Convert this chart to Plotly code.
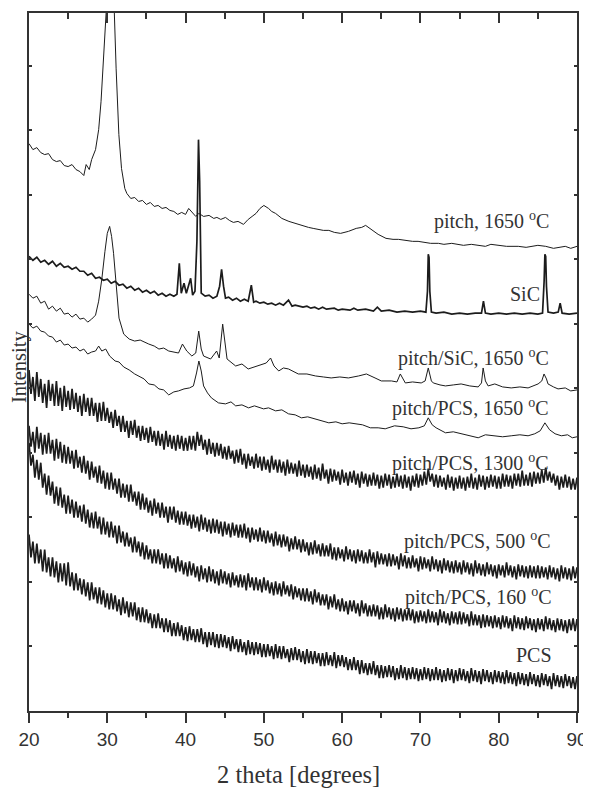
import numpy as np
import plotly.graph_objects as go

# ---------------- data (2 theta in degrees, intensity in arbitrary stacked units) ----------------
# 0.5 degree scan grid for the four noisy patterns: the noise maxima (top) are read at the grid
# points, the noise minima (bottom) a quarter degree later
scan_x = np.linspace(20, 90, 141)

pcs_1300_top = [342, 335, 340, 333, 328, 332, 328, 331, 324, 326,
                321, 323, 319, 316, 318, 314, 314, 309, 309, 310,
                304, 300, 302, 296, 296, 291, 291, 292, 286, 286,
                284, 285, 281, 281, 278, 281, 277, 276, 277, 276,
                274, 276, 276, 280, 277, 272, 273, 269, 269, 268,
                265, 266, 261, 262, 263, 258, 258, 255, 258, 255,
                255, 252, 256, 252, 252, 250, 252, 249, 248, 251,
                247, 247, 245, 247, 244, 248, 242, 243, 242, 240,
                242, 239, 240, 241, 238, 240, 238, 237, 239, 237,
                236, 238, 237, 235, 238, 236, 237, 235, 236, 238,
                237, 240, 243, 238, 237, 236, 234, 237, 235, 234,
                236, 234, 235, 238, 234, 237, 236, 235, 237, 236,
                235, 238, 237, 236, 238, 238, 241, 237, 239, 240,
                239, 242, 244, 240, 238, 236, 235, 237, 235, 233,
                234]
pcs_1300_bottom = [318, 311, 315, 309, 304, 311, 306, 306, 301, 305,
                   302, 303, 300, 296, 300, 296, 296, 290, 291, 291,
                   289, 284, 286, 280, 280, 274, 277, 274, 271, 272,
                   269, 270, 266, 266, 262, 265, 263, 261, 263, 261,
                   261, 262, 261, 266, 262, 257, 258, 255, 256, 253,
                   252, 253, 248, 249, 247, 243, 246, 243, 244, 241,
                   242, 239, 242, 239, 239, 236, 238, 238, 235, 236,
                   234, 235, 232, 233, 231, 233, 228, 230, 231, 227,
                   229, 226, 229, 227, 224, 228, 225, 226, 226, 223,
                   224, 226, 223, 224, 225, 223, 224, 221, 225, 224,
                   226, 227, 230, 225, 224, 225, 222, 224, 221, 223,
                   223, 221, 224, 223, 222, 225, 222, 224, 225, 223,
                   223, 225, 225, 223, 226, 225, 226, 226, 225, 228,
                   228, 229, 231, 229, 226, 222, 224, 224, 222, 222,
                   223]

pcs_500_top = [286, 280, 285, 279, 277, 279, 272, 273, 270, 267,
               265, 261, 262, 255, 256, 251, 250, 245, 246, 241,
               239, 239, 233, 233, 228, 227, 227, 220, 220, 218,
               214, 211, 213, 209, 209, 205, 205, 205, 201, 200,
               200, 197, 197, 195, 197, 194, 192, 193, 192, 190,
               190, 188, 189, 187, 187, 188, 184, 184, 182, 184,
               181, 181, 178, 180, 177, 177, 175, 173, 175, 172,
               172, 169, 169, 171, 167, 168, 166, 168, 164, 164,
               162, 165, 162, 161, 162, 161, 159, 162, 159, 160,
               158, 157, 158, 157, 155, 158, 156, 154, 156, 153,
               155, 154, 152, 155, 152, 151, 153, 151, 150, 151,
               149, 151, 149, 148, 151, 148, 147, 149, 147, 146,
               147, 146, 149, 146, 145, 147, 146, 145, 146, 145,
               146, 145, 144, 146, 144, 143, 146, 144, 143, 145,
               144]
pcs_500_bottom = [265, 259, 263, 257, 258, 258, 251, 253, 249, 248,
                  248, 243, 244, 239, 238, 232, 234, 229, 228, 223,
                  222, 222, 218, 214, 214, 210, 210, 206, 202, 202,
                  199, 196, 198, 194, 194, 189, 192, 189, 187, 187,
                  186, 183, 184, 180, 182, 180, 178, 179, 178, 175,
                  177, 174, 176, 174, 174, 173, 169, 172, 170, 170,
                  168, 169, 165, 166, 164, 165, 160, 162, 162, 159,
                  160, 156, 157, 158, 155, 155, 155, 152, 151, 153,
                  150, 152, 150, 148, 150, 148, 148, 149, 144, 147,
                  147, 145, 145, 146, 142, 145, 143, 143, 144, 140,
                  142, 143, 140, 142, 140, 138, 141, 139, 138, 139,
                  137, 139, 137, 135, 138, 136, 135, 137, 135, 133,
                  136, 134, 136, 134, 132, 135, 134, 133, 134, 133,
                  133, 134, 132, 134, 132, 130, 133, 132, 131, 133,
                  132]

pcs_160_top = [269, 257, 252, 249, 238, 236, 230, 225, 224, 217,
               216, 212, 210, 206, 207, 202, 199, 200, 195, 194,
               190, 190, 186, 186, 180, 179, 174, 175, 170, 169,
               166, 162, 162, 162, 158, 158, 156, 153, 155, 151,
               149, 150, 148, 145, 146, 143, 145, 142, 140, 142,
               140, 138, 139, 136, 137, 136, 138, 134, 134, 132,
               134, 131, 129, 130, 128, 130, 126, 127, 125, 123,
               123, 123, 120, 122, 119, 117, 117, 115, 117, 112,
               113, 110, 111, 111, 108, 111, 108, 106, 107, 106,
               104, 107, 104, 103, 104, 103, 102, 103, 102, 100,
               101, 100, 102, 100, 99, 102, 100, 98, 100, 99,
               100, 99, 97, 100, 97, 96, 97, 96, 95, 96,
               94, 96, 95, 93, 96, 94, 93, 95, 93, 92,
               93, 92, 95, 93, 91, 93, 92, 91, 92, 93,
               92]
pcs_160_bottom = [246, 234, 232, 224, 217, 216, 208, 206, 204, 198,
                  198, 194, 194, 190, 188, 184, 183, 183, 177, 177,
                  174, 174, 168, 169, 165, 165, 159, 159, 155, 152,
                  152, 148, 148, 147, 143, 143, 143, 139, 140, 137,
                  135, 136, 134, 130, 132, 129, 130, 128, 126, 128,
                  127, 124, 126, 124, 124, 121, 124, 121, 121, 119,
                  121, 118, 116, 117, 115, 117, 115, 112, 114, 111,
                  110, 110, 107, 109, 106, 106, 102, 104, 102, 100,
                  100, 97, 100, 98, 95, 98, 95, 95, 95, 92,
                  92, 94, 92, 90, 92, 90, 91, 91, 88, 89,
                  90, 88, 89, 89, 86, 89, 88, 86, 88, 87,
                  87, 88, 85, 86, 86, 83, 84, 85, 83, 84,
                  82, 84, 83, 80, 83, 82, 81, 83, 81, 79,
                  82, 80, 82, 81, 79, 81, 80, 78, 81, 80,
                  80]

pcs_top = [177, 170, 168, 162, 162, 154, 154, 150, 148, 148,
           149, 139, 138, 133, 132, 129, 129, 124, 124, 121,
           118, 118, 116, 112, 114, 110, 109, 109, 104, 104,
           102, 98, 97, 98, 93, 93, 91, 88, 89, 86,
           84, 85, 82, 82, 83, 79, 79, 79, 77, 77,
           76, 74, 75, 72, 72, 69, 71, 69, 69, 68,
           67, 67, 65, 67, 65, 65, 62, 63, 64, 62,
           60, 62, 60, 60, 58, 58, 59, 56, 59, 56,
           56, 54, 52, 54, 51, 51, 48, 48, 50, 46,
           46, 45, 46, 45, 43, 46, 44, 43, 44, 43,
           42, 44, 43, 42, 44, 42, 41, 43, 42, 41,
           43, 42, 40, 43, 41, 40, 42, 41, 39, 41,
           40, 39, 41, 39, 38, 39, 38, 37, 39, 37,
           36, 38, 37, 35, 38, 36, 35, 37, 35, 34,
           35]
pcs_bottom = [154, 148, 148, 140, 139, 135, 134, 129, 130, 126,
              125, 121, 121, 117, 115, 111, 112, 108, 107, 104,
              102, 102, 100, 96, 98, 94, 95, 91, 89, 89,
              88, 83, 83, 83, 79, 79, 75, 75, 75, 71,
              70, 71, 69, 69, 67, 64, 66, 64, 63, 64,
              63, 60, 62, 59, 59, 56, 57, 56, 57, 54,
              54, 55, 52, 53, 52, 53, 49, 51, 51, 49,
              47, 48, 47, 48, 45, 45, 46, 45, 43, 45,
              44, 41, 41, 41, 37, 38, 36, 37, 36, 33,
              33, 34, 34, 31, 32, 33, 31, 32, 32, 30,
              31, 32, 30, 31, 31, 29, 30, 31, 28, 30,
              31, 30, 28, 30, 29, 27, 30, 29, 27, 29,
              28, 27, 28, 27, 25, 27, 26, 25, 27, 25,
              24, 26, 25, 22, 25, 24, 23, 25, 23, 22,
              23]

pitch_x = [20, 20.5, 21, 21.5, 22, 22.5, 23, 23.5, 24, 24.5, 25, 25.5, 26, 26.5, 27,
           27.3, 27.7, 28.0, 28.5, 28.9, 29.2, 29.45, 29.7, 29.85, 30.33, 30.9, 31.13, 31.48, 31.82, 32.24,
           32.5, 33, 33.5, 34, 34.5, 35, 35.5, 36, 36.5, 37, 37.5, 38, 38.5, 39, 39.5, 40,
           40.4, 41, 41.3, 41.7, 42.3, 43, 43.6, 44, 44.5, 45.1,
           45.6, 46.1, 46.7, 47.4, 48, 48.5, 49, 49.5, 50, 50.6,
           51, 51.5, 52.3, 53.2, 54, 54.4, 55, 55.7, 56.3, 57,
           57.6, 58.3, 59, 59.8, 60.3, 60.8, 61.8, 62.5, 63, 63.7,
           64.6, 65.6, 66.5, 67.2, 68, 69, 69.7, 70.5, 71.3, 72.3,
           73, 74, 74.8, 75.5, 76.5, 77.4, 78.3, 79, 79.9, 81,
           82.5, 83.5, 85, 86, 87, 87.6, 88.5, 89.2, 90]
pitch_y = [569, 563, 565, 560, 558, 559, 553, 551, 552, 547, 546, 548, 543, 541, 537,
           548, 543, 553, 563, 583, 611, 644, 678, 700, 1011, 700, 644, 578, 544, 524,
           519, 514, 515, 511, 512, 508, 510, 506, 507, 504, 505, 502, 501, 498, 500, 498,
           504, 498, 496, 499, 496, 497, 494, 495, 493, 495,
           492, 490, 491, 488, 493, 496, 499, 504, 507, 504,
           501, 499, 494, 491, 489, 488, 486, 485, 484, 483,
           482, 482, 480, 479, 480, 481, 484, 485, 487, 483,
           478, 474, 473, 473, 472, 471, 471, 470, 469, 469,
           468, 469, 468, 467, 468, 467, 466, 468, 467, 466,
           466, 465, 467, 466, 464, 465, 466, 464, 466]

sic_x = [20, 20.5, 21, 21.5, 22, 22.5, 23, 23.5, 24, 24.5, 25, 25.5, 26, 26.5, 27, 27.5, 28, 28.5, 29, 29.5,
         30, 30.5, 31, 31.5, 32, 32.5, 33, 33.5, 34, 34.5, 35, 35.5, 36, 36.5, 37, 37.5, 38, 38.5,
         38.9, 39.2, 39.45, 39.8, 40.1, 40.4, 40.65, 40.9, 41.2, 41.45, 41.65, 41.8, 42.0,
         42.5, 43, 43.5, 44.0, 44.35, 44.6, 44.85, 45.1, 45.5, 46,
         46.5, 47, 47.5, 48.0, 48.4, 48.7, 49, 49.5, 50, 50.5,
         51, 51.5, 52, 52.5, 53.15, 53.6, 54, 55, 55.5, 56,
         56.5, 57, 57.5, 58, 59, 59.5, 60, 61, 61.5, 62,
         63, 64, 64.5, 65, 66, 67, 68, 69, 70, 70.7,
         70.9, 71.0, 71.1, 71.2, 71.4, 72, 73, 74, 75, 76,
         77, 77.8, 78.05, 78.3, 79, 80, 81, 82, 83, 84,
         85, 85.6, 85.8, 85.9, 86.0, 86.1, 86.3, 87, 87.6, 87.85,
         88.1, 89, 90]
sic_y = [456, 452, 455, 450, 452, 448, 451, 446, 449, 445, 446, 443, 445, 441, 441, 437, 439, 434, 435, 432,
         433, 429, 431, 427, 428, 424, 426, 422, 424, 420, 422, 419, 421, 417, 419, 416, 418, 416,
         418, 449, 419, 429, 419, 426, 434, 417, 421, 471, 573, 531, 419,
         416, 417, 414, 416, 426, 443, 426, 414, 415, 412,
         414, 411, 413, 411, 427, 410, 411, 409, 410, 408,
         409, 407, 409, 407, 412, 406, 407, 405, 406, 404,
         405, 403, 405, 403, 404, 402, 403, 402, 404, 402,
         403, 401, 405, 401, 402, 400, 401, 400, 401, 400,
         421, 458, 455, 421, 400, 399, 400, 398, 399, 398,
         399, 399, 411, 399, 398, 399, 398, 399, 398, 399,
         398, 399, 431, 458, 456, 426, 400, 399, 400, 409,
         399, 398, 399]

pitch_sic_x = [20, 20.5, 21, 21.5, 22, 22.5, 23, 23.5, 24, 24.5, 25, 25.5, 26, 26.5, 27, 27.5, 28, 28.5,
               28.9, 29.3, 29.7, 30.0, 30.3, 30.55, 30.8, 31.1, 31.5, 32.1,
               32.8, 33.5, 34.2, 35.3, 36, 36.6, 37.2, 37.85, 38.5, 39.1,
               39.6, 40.15, 40.8, 41.3, 41.68, 42.0, 42.3, 43.2, 43.97, 44.3,
               44.74, 45.1, 45.3, 46.4, 47.2, 48, 48.8, 49.7, 50.3, 50.86,
               51.3, 51.9, 52.5, 53.15, 54.4, 55.5, 56.6, 57.6, 58.6, 59.7,
               60.8, 62.1, 63.1, 64.2, 65.0, 66.3, 67.0, 67.43, 68.07, 69,
               70.1, 70.6, 71.0, 71.4, 71.64, 72.5, 73.2, 74.2, 75.2, 76.3,
               77.38, 77.8, 78.01, 78.3, 78.65, 79.5, 80.5, 81.6, 82.7, 83.75,
               84.5, 85.03, 85.5, 85.79, 86.1, 86.3, 87, 87.58, 88.5, 89.2,
               90]
pitch_sic_y = [418, 414, 416, 409, 411, 403, 406, 401, 404, 398, 399, 395, 398, 393, 394, 390, 393, 397,
               411, 433, 461, 479, 486, 476, 459, 428, 394, 378,
               373, 371, 372, 368, 366, 363, 364, 361, 360, 359,
               368, 361, 356, 359, 381, 363, 356, 353, 361, 354,
               388, 361, 353, 346, 348, 343, 345, 348, 349, 354,
               346, 341, 344, 343, 338, 338, 336, 335, 334, 335,
               334, 336, 338, 334, 331, 331, 330, 338, 329, 330,
               329, 331, 344, 331, 329, 327, 326, 327, 328, 326,
               325, 329, 344, 331, 326, 328, 325, 324, 325, 324,
               326, 328, 331, 338, 333, 328, 325, 323, 324, 321,
               322]

pitch_pcs_x = [20, 20.5, 21, 21.5, 22, 22.5, 23, 23.5, 24, 24.5, 25, 25.5, 26, 26.5, 27, 27.5, 28, 28.5,
               28.9, 29.3, 29.8, 30.3, 31.0, 31.5, 32.1, 32.8, 33.5, 34.0,
               34.7, 35.3, 36, 36.6, 37.2, 37.85, 38.5, 39.1, 39.8, 40.5,
               41.0, 41.4, 41.7, 42.0, 42.3, 42.8, 43.3, 44.2, 45.1, 45.8,
               46.4, 47.2, 48.05, 48.8, 49.96, 50.6, 51.5, 52.3, 53.15, 54.0,
               54.8, 55.6, 56.6, 57.5, 58.3, 59.2, 60.0, 60.9, 61.8, 62.6,
               63.6, 64.6, 65.5, 66.7, 67.8, 68.8, 69.8, 70.5, 71.0, 71.5,
               72.0, 72.8, 73.2, 74.2, 75.2, 76.2, 77.38, 78.3, 79.5, 80.5,
               81.6, 82.7, 83.75, 84.6, 85.3, 85.9, 86.5, 87.2, 88.0, 88.8,
               89.4, 90]
pitch_pcs_y = [388, 384, 386, 381, 380, 376, 375, 370, 372, 367, 368, 364, 365, 361, 363, 358, 360, 361,
               366, 361, 363, 356, 351, 350, 345, 342, 338, 336,
               333, 328, 327, 323, 322, 317, 320, 321, 323, 324,
               326, 339, 351, 341, 326, 319, 314, 309, 308, 310,
               306, 307, 304, 306, 303, 304, 301, 302, 298, 297,
               294, 295, 293, 291, 289, 290, 288, 289, 288, 287,
               284, 284, 283, 286, 285, 283, 284, 286, 294, 287,
               284, 281, 279, 280, 278, 276, 274, 277, 276, 275,
               276, 277, 276, 278, 281, 289, 282, 278, 276, 277,
               274, 275]

curve_labels = ["pitch, 1650 <sup>o</sup>C", "SiC", "pitch/SiC, 1650 <sup>o</sup>C",
                "pitch/PCS, 1650 <sup>o</sup>C", "pitch/PCS, 1300 <sup>o</sup>C",
                "pitch/PCS, 500 <sup>o</sup>C", "pitch/PCS, 160 <sup>o</sup>C", "PCS"]
x_tick_values = [20, 30, 40, 50, 60, 70, 80, 90]

# ---------------- figure ----------------
LINE = "#1c1c1c"
TEXT = "#333333"
fig = go.Figure()

thin = [(pitch_x, pitch_y, 1.0), (sic_x, sic_y, 1.7), (pitch_sic_x, pitch_sic_y, 1.0),
        (pitch_pcs_x, pitch_pcs_y, 1.0)]
for xs, ys, w in thin:
    fig.add_trace(go.Scatter(x=xs, y=ys, mode="lines", line=dict(color=LINE, width=w),
                             showlegend=False, hoverinfo="skip"))

# noisy patterns: trace runs maximum -> minimum -> maximum ... along the scan
bands = [(pcs_1300_top, pcs_1300_bottom), (pcs_500_top, pcs_500_bottom),
         (pcs_160_top, pcs_160_bottom), (pcs_top, pcs_bottom)]
for top, bottom in bands:
    zx, zy = [], []
    for xv, t, b in zip(scan_x, top, bottom):
        zx += [xv, xv + 0.25]
        zy += [t, b]
    fig.add_trace(go.Scatter(x=zx, y=zy, mode="lines", line=dict(color=LINE, width=1.7),
                             showlegend=False, hoverinfo="skip"))

# carrier for the mirrored top axis
fig.add_trace(go.Scatter(x=[], y=[], xaxis="x2", yaxis="y", showlegend=False, hoverinfo="skip"))

label_pos = [(86.7, 492), (85.55, 418), (86.7, 355), (86.55, 304),
             (86.55, 249), (86.85, 171), (86.95, 115), (87.0, 56)]
for txt, (lx, ly) in zip(curve_labels, label_pos):
    fig.add_annotation(x=lx, y=ly, xref="x", yref="y", text=txt, showarrow=False,
                       xanchor="right", yanchor="middle",
                       font=dict(family="Liberation Serif", size=20, color=TEXT))

fig.add_annotation(x=0.491, y=-0.0914, xref="paper", yref="paper", text="2 theta [degrees]",
                   showarrow=False, xanchor="center", yanchor="middle",
                   font=dict(family="Liberation Serif", size=24.5, color=TEXT))
fig.add_annotation(x=-0.0173, y=0.492, xref="paper", yref="paper", text="Intensity",
                   showarrow=False, textangle=-90, xanchor="center", yanchor="middle",
                   font=dict(family="Liberation Serif", size=20.5, color=TEXT))

# the page adds an 8 px body margin, so the figure is sized to fit the 591x790 window
fig.update_layout(
    width=583, height=782,
    margin=dict(l=21, r=12, t=3, b=79),
    plot_bgcolor="white", paper_bgcolor="white",
    showlegend=False,
    xaxis=dict(range=[20, 90], tickmode="array", tickvals=x_tick_values,
               ticks="outside", ticklen=10, tickwidth=2, tickcolor=TEXT,
               showline=True, linewidth=2, linecolor=TEXT, mirror=True,
               showgrid=False, zeroline=False,
               minor=dict(dtick=5, tick0=20, ticks="outside", ticklen=5, tickwidth=2,
                          tickcolor=TEXT, showgrid=False),
               tickfont=dict(family="Liberation Sans", size=19, color=TEXT)),
    xaxis2=dict(range=[20, 90], overlaying="x", side="top", anchor="y",
                tickmode="array", tickvals=x_tick_values,
                ticks="inside", ticklen=10, tickwidth=2, tickcolor=TEXT,
                showticklabels=False, showline=False, showgrid=False, zeroline=False,
                minor=dict(dtick=5, tick0=20, ticks="inside", ticklen=5.5, tickwidth=2,
                           tickcolor=TEXT, showgrid=False)),
    yaxis=dict(range=[0, 700], tick0=0, dtick=64.7, ticks="inside", ticklen=3,
               tickwidth=1.5, tickcolor=TEXT, showticklabels=False,
               showline=True, linewidth=2, linecolor=TEXT, mirror="ticks",
               showgrid=False, zeroline=False),
)

fig.write_html("out.html")
